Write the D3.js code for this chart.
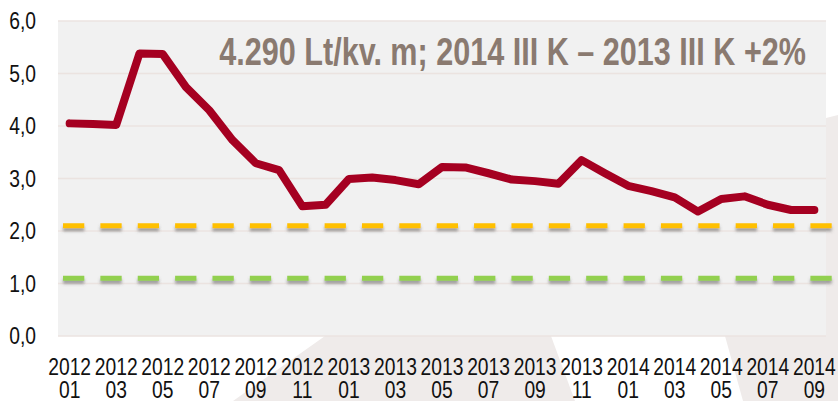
<!DOCTYPE html>
<html>
<meta charset="utf-8">
<head>
	<title>Kaina</title>
	<script src="https://d3js.org/d3.v7.min.js"></script>
</head>
<body style="margin:0;background:#fff">
<svg id="chart" width="838" height="401"></svg>

<script>
	// monthly values 2012 01 .. 2014 09
	var months = ["2012 01","2012 02","2012 03","2012 04","2012 05","2012 06","2012 07","2012 08","2012 09","2012 10","2012 11","2012 12",
		"2013 01","2013 02","2013 03","2013 04","2013 05","2013 06","2013 07","2013 08","2013 09","2013 10","2013 11","2013 12",
		"2014 01","2014 02","2014 03","2014 04","2014 05","2014 06","2014 07","2014 08","2014 09"];
	var values = [4.05, 4.04, 4.02, 5.38, 5.37, 4.74, 4.30, 3.73, 3.29, 3.16, 2.47, 2.50,
		2.99, 3.02, 2.97, 2.89, 3.22, 3.21, 3.10, 2.98, 2.95, 2.90, 3.35, 3.10,
		2.86, 2.76, 2.64, 2.37, 2.61, 2.66, 2.50, 2.40, 2.40];
	var yTicks = [0, 1, 2, 3, 4, 5, 6];
	var levelYellow = 2.1;
	var levelGreen = 1.1;
	var title = "4.290 Lt/kv. m; 2014 III K \u2013 2013 III K +2%";

	var svg = d3.select("#chart");
	var mLeft = 58, mRight = 826, mTop = 21, mBottom = 336;
	var font = "'Liberation Sans', Arial, sans-serif";
	var squeeze = 0.82; // narrow face look

	// faint watermark shapes behind everything
	var marks = [
		[[325,336],[551,336],[575,401],[233,401]],
		[[725,336],[838,336],[838,401],[743,401]],
		[[826,118],[838,115],[838,401],[826,401]]
	];
	svg.selectAll("polygon.wm").data(marks).enter()
		.append("polygon")
		.attr("points", function (d) { return d.join(" "); })
		.attr("fill", "#efebea");

	var x = d3.scaleBand().domain(months).range([mLeft, mRight]);
	var y = d3.scaleLinear().domain([0, 6]).range([mBottom, mTop]);

	svg.append("rect")
		.attr("x", mLeft).attr("y", mTop)
		.attr("width", mRight - mLeft).attr("height", mBottom - mTop)
		.attr("fill", "#f1f1f1");

	var defs = svg.append("defs");
	var f = defs.append("filter").attr("id", "shadow")
		.attr("filterUnits", "userSpaceOnUse")
		.attr("x", 0).attr("y", 0).attr("width", 838).attr("height", 401);
	f.append("feDropShadow").attr("dx", 0).attr("dy", 3).attr("stdDeviation", 1.6)
		.attr("flood-color", "#555").attr("flood-opacity", 0.55);

	// grid
	svg.selectAll("line.grid").data(yTicks).enter()
		.append("line")
		.attr("x1", mLeft).attr("x2", mRight)
		.attr("y1", function (d) { return y(d); })
		.attr("y2", function (d) { return y(d); })
		.attr("stroke", "#ebe3e0").attr("stroke-width", 1.5);

	// y labels
	svg.selectAll("text.ylab").data(yTicks).enter()
		.append("text")
		.attr("transform", function (d) { return "translate(36," + y(d) + ") scale(" + squeeze + ",1)"; })
		.attr("dy", "0.35em")
		.attr("text-anchor", "end")
		.style("font-family", font).style("font-size", "23.5px").attr("fill", "#111")
		.text(function (d) { return d3.format(".1f")(d).replace(".", ","); });

	// level lines
	[[levelYellow, "#ffc000"], [levelGreen, "#92d050"]].forEach(function (l) {
		svg.append("line")
			.attr("x1", 63).attr("x2", 832)
			.attr("y1", y(l[0])).attr("y2", y(l[0]))
			.attr("stroke", l[1]).attr("stroke-width", 5)
			.attr("stroke-dasharray", "21.3 16.07")
			.attr("filter", "url(#shadow)");
	});

	// main line
	var line = d3.line()
		.x(function (d, i) { return x(months[i]) + x.bandwidth() / 2; })
		.y(function (d) { return y(d); });
	svg.append("path")
		.datum(values)
		.attr("d", line)
		.attr("fill", "none")
		.attr("stroke", "#a50021")
		.attr("stroke-width", 8)
		.attr("stroke-linejoin", "round")
		.attr("stroke-linecap", "round");

	// x labels every second month
	var shown = months.filter(function (m, i) { return i % 2 === 0; });
	var xl = svg.selectAll("text.xlab").data(shown).enter()
		.append("text")
		.attr("transform", function (d) { return "translate(" + (x(d) + x.bandwidth() / 2) + ",0) scale(" + squeeze + ",1)"; })
		.attr("text-anchor", "middle")
		.style("font-family", font).style("font-size", "23.5px").attr("fill", "#111");
	xl.append("tspan")
		.attr("x", 0).attr("y", 375)
		.text(function (d) { return d.split(" ")[0]; });
	xl.append("tspan")
		.attr("x", 0).attr("y", 398)
		.text(function (d) { return d.split(" ")[1]; });

	svg.append("text")
		.attr("transform", "translate(806,65) scale(0.805,1)")
		.attr("text-anchor", "end")
		.style("font-family", font).style("font-size", "38px").style("font-weight", "bold")
		.attr("fill", "#8a7a70")
		.text(title);
</script>
</body>
</html>
